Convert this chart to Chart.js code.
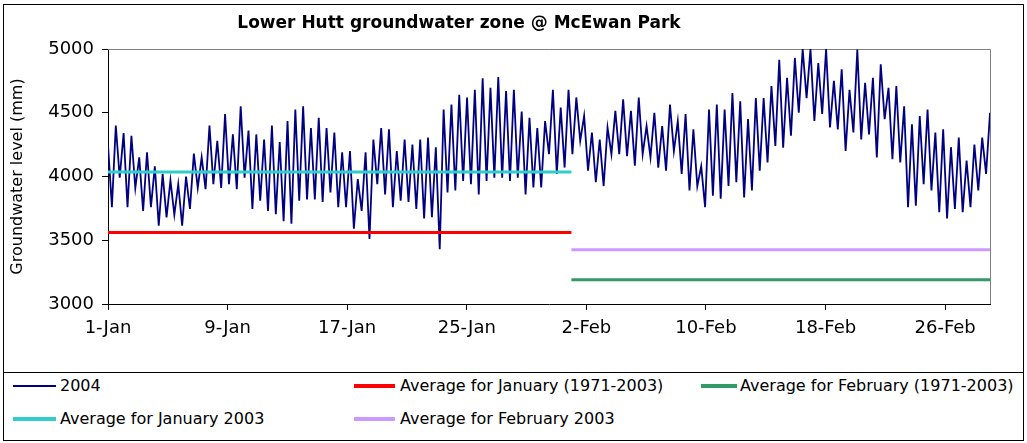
<!DOCTYPE html>
<html>
<head>
<meta charset="utf-8">
<script src="https://cdn.jsdelivr.net/npm/chart.js@4.4.1/dist/chart.umd.min.js"></script>
<style>
  body { margin: 0; background: #fff; font-family: "DejaVu Sans", sans-serif; }
  #frame { position: absolute; left: 3px; top: 4px; width: 1019px; height: 435px; border: 1px solid #000; }
  #plot { position: absolute; left: 0; top: 0; }
  #legend { position: absolute; left: 0; top: 367px; width: 1019px; height: 67px; border-top: 1px solid #000; }
  .swatch { position: absolute; }
  .label { position: absolute; font-size: 16px; line-height: 20px; color: #000; white-space: nowrap; }
</style>
</head>
<body>
<div id="frame">
  <canvas id="plot" width="1019" height="367"></canvas>
  <div id="legend"></div>
</div>
<script>
const chartTitle = "Lower Hutt groundwater zone @ McEwan Park";
const yTitle = "Groundwater level (mm)";

// days since 1 Jan where the date axis is labelled
const tickDays = [0, 8, 16, 24, 32, 40, 48, 56];
const tickLabels = ["1-Jan", "9-Jan", "17-Jan", "25-Jan", "2-Feb", "10-Feb", "18-Feb", "26-Feb"];
const firstDay = 0;
const lastDay = 59;
const febStart = 31;

// 2004 record, tidal highs and lows read cycle by cycle (mm)
const highs2004 = [
  4250, 4400, 4340, 4320, 4150, 4190, 4080, 4020, 3970, 3940,
  4000, 4180, 4150, 4400, 4280, 4490, 4330, 4550, 4360, 4330,
  4290, 4400, 4270, 4435, 4525, 4550, 4380, 4460, 4380, 4345,
  4190, 4200, 3980, 4190, 4290, 4380, 4370, 4200, 4290, 4250,
  4290, 4305, 4230, 4525, 4565, 4640, 4620, 4680, 4770, 4695,
  4780, 4670, 4680, 4510, 4460, 4380, 4435, 4680, 4540, 4680,
  4620, 4475, 4345, 4290, 4385, 4515, 4605, 4515, 4620, 4395,
  4500, 4395, 4565, 4435, 4490, 4370, 4080, 4525, 4565, 4525,
  4655, 4590, 4450, 4615, 4615, 4710, 4915, 4775, 4930, 5000,
  5000, 4890, 5000, 4750, 4840, 4680, 4995, 4735, 4775, 4880,
  4695, 4710, 4550, 4410, 4475, 4525, 4345, 4370, 4230, 4305,
  4125, 4250, 4305, 4500
];
const lows2004 = [
  3760, 3990, 3760, 3910, 3730, 3760, 3615, 3680, 3700, 3615,
  3745, 3910, 3900, 3940, 3910, 3940, 3900, 3990, 3745, 3810,
  3730, 3705, 3650, 3630, 3810, 3820, 3820, 3800, 3875, 3760,
  3760, 3590, 3730, 3510, 3940, 3860, 3760, 3810, 3800, 3745,
  3670, 3680, 3430, 3875, 3890, 3965, 3940, 3860, 3965, 3990,
  3990, 3965, 3990, 3860, 3915, 3915, 4175, 4020, 4070, 4175,
  4280, 4045, 3955, 3925, 4175, 4175, 4160, 4085, 4175, 4150,
  4070, 4045, 4200, 4020, 3890, 3925, 3760, 3850, 3825, 3925,
  3955, 3835, 3890, 4045, 4110, 4240, 4225, 4320, 4500, 4615,
  4435, 4490, 4385, 4370, 4200, 4345, 4290, 4330, 4150, 4450,
  4135, 4110, 3760, 3770, 3940, 3890, 3720, 3670, 3745, 3720,
  3760, 3890, 4020
];

const avgJanLong = 3560;
const avgFebLong = 3190;
const avgJan2003 = 4035;
const avgFeb2003 = 3425;

const seriesLabels = [
  "2004",
  "Average for January (1971-2003)",
  "Average for February (1971-2003)",
  "Average for January 2003",
  "Average for February 2003",
];
const seriesColors = ["#000080", "#ff0000", "#339966", "#33cccc", "#cc99ff"];

// interleave highs and lows, evenly spaced in time over the record
const readings = [];
highs2004.forEach((h, i) => {
  readings.push(h);
  if (i < lows2004.length) readings.push(lows2004[i]);
});
const stepDays = (lastDay - firstDay) / (readings.length - 1);
const record2004 = readings.map((v, i) => ({ x: firstDay + i * stepDays, y: v }));

const flat = (from, to, v) => [{ x: from, y: v }, { x: to, y: v }];

const plotFrame = {
  id: "plotFrame",
  beforeDatasetsDraw(chart) {
    const { ctx, chartArea: a } = chart;
    ctx.save();
    ctx.strokeStyle = "#808080";
    ctx.lineWidth = 1;
    ctx.beginPath();
    ctx.moveTo(a.left, a.top + 0.5);
    ctx.lineTo(a.right + 0.5, a.top + 0.5);
    ctx.lineTo(a.right + 0.5, a.bottom);
    ctx.stroke();
    ctx.restore();
  },
  afterDraw(chart) {
    const ctx = chart.ctx;
    ctx.save();
    ctx.fillStyle = "#000";
    ctx.font = 'bold 17px "DejaVu Sans"';
    ctx.textAlign = "center";
    ctx.textBaseline = "middle";
    ctx.fillText(chartTitle, 455, 19);
    ctx.restore();
  },
};

new Chart(document.getElementById("plot"), {
  type: "line",
  data: {
    datasets: [
      { label: seriesLabels[0], data: record2004, borderColor: seriesColors[0], borderWidth: 1.8, order: 1 },
      { label: seriesLabels[1], data: flat(firstDay, febStart, avgJanLong), borderColor: seriesColors[1], borderWidth: 3 },
      { label: seriesLabels[2], data: flat(febStart, lastDay, avgFebLong), borderColor: seriesColors[2], borderWidth: 3 },
      { label: seriesLabels[3], data: flat(firstDay, febStart, avgJan2003), borderColor: seriesColors[3], borderWidth: 3 },
      { label: seriesLabels[4], data: flat(febStart, lastDay, avgFeb2003), borderColor: seriesColors[4], borderWidth: 3 },
    ],
  },
  options: {
    responsive: false,
    animation: false,
    layout: { padding: { top: 44, right: 33, left: 0, bottom: 0 } },
    elements: { point: { radius: 0 }, line: { tension: 0 } },
    plugins: { legend: { display: false }, tooltip: { enabled: false } },
    scales: {
      x: {
        type: "linear",
        min: firstDay,
        max: lastDay,
        afterBuildTicks: (scale) => { scale.ticks = tickDays.map((v) => ({ value: v })); },
        afterFit: (scale) => { scale.height = 68; },
        ticks: {
          color: "#000",
          font: { family: "DejaVu Sans", size: 18 },
          padding: 8,
          maxRotation: 0,
          autoSkip: false,
          callback: (v) => tickLabels[tickDays.indexOf(v)],
        },
        grid: { drawOnChartArea: false, tickLength: 6, color: "#000" },
        border: { color: "#000", width: 1 },
      },
      y: {
        min: 3000,
        max: 5000,
        afterFit: (scale) => { scale.width = 104; },
        ticks: {
          stepSize: 500,
          color: "#000",
          font: { family: "DejaVu Sans", size: 18 },
          padding: 8,
          callback: (v) => String(v),
        },
        grid: { drawOnChartArea: false, tickLength: 6, color: "#000" },
        border: { color: "#000", width: 1 },
        title: {
          display: true,
          text: yTitle,
          color: "#000",
          font: { family: "DejaVu Sans", size: 16 },
          padding: { top: 4, bottom: 0 },
        },
      },
    },
  },
  plugins: [plotFrame],
});

// legend box under the plot, laid out in Excel's columns
const legendSlots = [
  { col: 0, row: 0 }, { col: 1, row: 0 }, { col: 2, row: 0 },
  { col: 0, row: 1 }, { col: 1, row: 1 },
];
const colLine = [[9, 52], [350, 391], [697, 733]];
const colText = [56, 396, 736];
const rowMid = [13, 46];
const legend = document.getElementById("legend");
seriesLabels.forEach((text, i) => {
  const { col, row } = legendSlots[i];
  const thick = i === 0 ? 2 : 4;
  const sw = document.createElement("div");
  sw.className = "swatch";
  sw.style.left = colLine[col][0] + "px";
  sw.style.width = (colLine[col][1] - colLine[col][0]) + "px";
  sw.style.top = (rowMid[row] - thick / 2) + "px";
  sw.style.height = thick + "px";
  sw.style.background = seriesColors[i];
  legend.appendChild(sw);
  const lab = document.createElement("div");
  lab.className = "label";
  lab.style.left = colText[col] + "px";
  lab.style.top = (rowMid[row] - 10) + "px";
  lab.textContent = text;
  legend.appendChild(lab);
});
</script>
</body>
</html>
